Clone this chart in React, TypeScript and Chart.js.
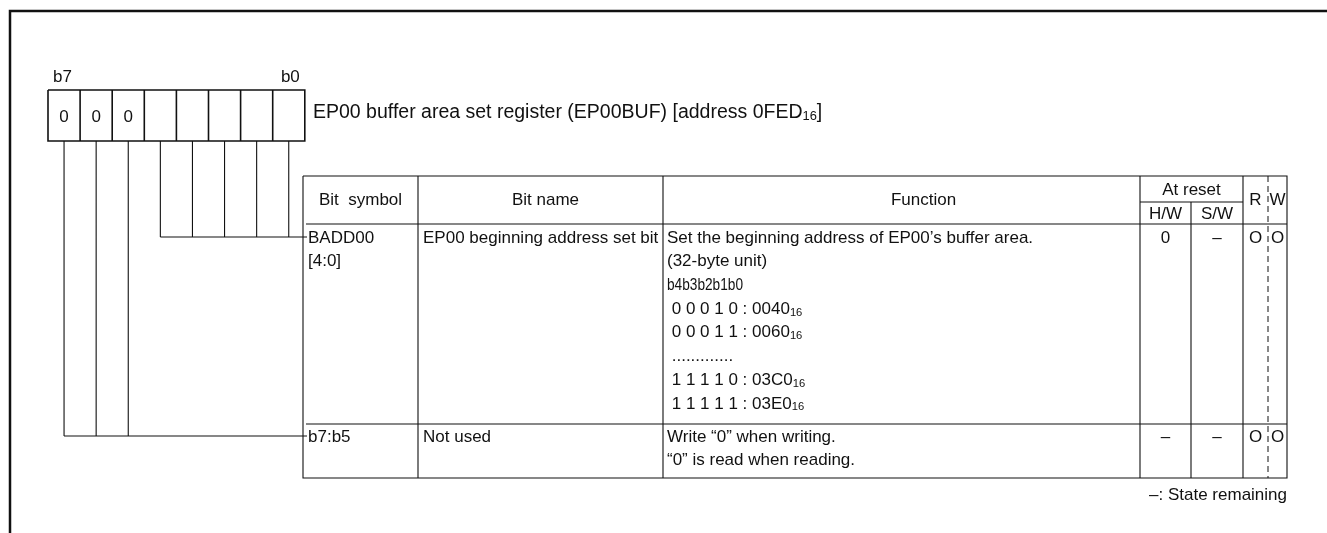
import React, { useEffect, useRef } from "react";
import { Chart, registerables } from "chart.js";

Chart.register(...registerables);

const CANVAS_W = 1327;
const CANVAS_H = 533;
const FONT = '"Liberation Sans", Arial, Helvetica, sans-serif';
const INK = "#111111";

// ---------- content ----------
const bitEndLabels = ["b7", "b0"];
const bitValues = ["0", "0", "0", "", "", "", "", ""];
const titleText = "EP00 buffer area set register (EP00BUF) [address 0FED";
const titleSub = "16";
const titleTail = "]";
const headerLabels = ["Bit  symbol", "Bit name", "Function"];
const resetHeader = "At reset";
const resetSubHeaders = ["H/W", "S/W"];
const rwHeaders = ["R", "W"];
const rowBits = [
  [4, 3, 2, 1, 0],
  [7, 6, 5],
];
const bitSymbols = [["BADD00", "[4:0]"], ["b7:b5"]];
const bitNames = ["EP00 beginning address set bit", "Not used"];
const functionText = [
  [
    "Set the beginning address of EP00\u2019s buffer area.",
    "(32-byte unit)",
    "b4b3b2b1b0",
    " 0 0 0 1 0 : 0040",
    " 0 0 0 1 1 : 0060",
    " .............",
    " 1 1 1 1 0 : 03C0",
    " 1 1 1 1 1 : 03E0",
  ],
  ["Write \u201c0\u201d when writing.", "\u201c0\u201d is read when reading."],
];
const functionSubs = [
  ["", "", "", "16", "16", "", "16", "16"],
  ["", ""],
];
// lines drawn horizontally condensed (max width in px, 0 = natural)
const functionCondense = [
  [0, 0, 76, 0, 0, 0, 0, 0],
  [0, 0],
];
const resetHW = ["0", "\u2013"];
const resetSW = ["\u2013", "\u2013"];
const readFlags = ["O", "O"];
const writeFlags = ["O", "O"];
const footnote = "\u2013: State remaining";

// ---------- layout ----------
const FRAME = { x: 10, y: 11 };
const REG = { x: 48, top: 90, bottom: 141, cell: 32.1, labelY: 77, textY: 117 };
const TITLE = { x: 313, y: 113 };
const COLS = [303, 418, 663, 1140, 1191, 1243, 1268, 1287];
const ROWS = { top: 176, resetMid: 202, header: 224, bottoms: [424, 478] };
const TEXT = { firstLine: [238, 437], step: 23.7, pad: 5 };
const FOOT_Y = 495;
const TABLE_FONT = 17;
const TITLE_FONT = 19.5;

type Pt = { x: number; y: number | null };

function polylines(lines: number[][][]): Pt[] {
  const out: Pt[] = [];
  lines.forEach((pl, i) => {
    if (i > 0) out.push({ x: pl[0][0], y: null });
    pl.forEach(([x, y]) => out.push({ x, y }));
  });
  return out;
}

const bitCenter = (bit: number) => REG.x + REG.cell * (7 - bit + 0.5);

function buildFrame() {
  return polylines([
    [
      [FRAME.x, CANVAS_H],
      [FRAME.x, FRAME.y],
      [CANVAS_W, FRAME.y],
    ],
  ]);
}

function buildRegister() {
  const right = REG.x + REG.cell * 8;
  const lines: number[][][] = [
    [
      [REG.x, REG.top],
      [right, REG.top],
      [right, REG.bottom],
      [REG.x, REG.bottom],
      [REG.x, REG.top],
    ],
  ];
  for (let i = 1; i < 8; i++) {
    const x = REG.x + REG.cell * i;
    lines.push([
      [x, REG.top],
      [x, REG.bottom],
    ]);
  }
  return polylines(lines);
}

function buildThin() {
  const lines: number[][][] = [];
  // leaders from bit cells to table rows
  rowBits.forEach((bits, r) => {
    const ly = TEXT.firstLine[r] - 1;
    bits.forEach((b) => {
      lines.push([
        [bitCenter(b), REG.bottom],
        [bitCenter(b), ly],
      ]);
    });
    const minX = Math.min(...bits.map(bitCenter));
    lines.push([
      [minX, ly],
      [COLS[0] + 4, ly],
    ]);
  });
  const L = COLS[0];
  const R = COLS[COLS.length - 1];
  const B = ROWS.bottoms[ROWS.bottoms.length - 1];
  // outer table
  lines.push([
    [L, ROWS.top],
    [R, ROWS.top],
    [R, B],
    [L, B],
    [L, ROWS.top],
  ]);
  // row separators
  [ROWS.header, ...ROWS.bottoms.slice(0, -1)].forEach((y) => {
    lines.push([
      [L + 3, y],
      [R, y],
    ]);
  });
  // column lines
  [COLS[1], COLS[2], COLS[3], COLS[5]].forEach((x) => {
    lines.push([
      [x, ROWS.top],
      [x, B],
    ]);
  });
  lines.push([
    [COLS[4], ROWS.resetMid],
    [COLS[4], B],
  ]);
  lines.push([
    [COLS[3], ROWS.resetMid],
    [COLS[5], ROWS.resetMid],
  ]);
  return polylines(lines);
}

function buildDashed() {
  const B = ROWS.bottoms[ROWS.bottoms.length - 1];
  return polylines([
    [
      [COLS[6], ROWS.top],
      [COLS[6], B],
    ],
  ]);
}

const textPlugin = {
  id: "registerText",
  afterDatasetsDraw(chart: any) {
    const ctx: CanvasRenderingContext2D = chart.ctx;
    const xs = chart.scales.x;
    const ys = chart.scales.y;
    const X = (v: number) => xs.getPixelForValue(v);
    const Y = (v: number) => ys.getPixelForValue(v);
    const put = (
      s: string,
      x: number,
      y: number,
      align: CanvasTextAlign = "left",
      size: number = TABLE_FONT,
      sub = "",
      tail = "",
      maxW = 0
    ) => {
      ctx.save();
      ctx.fillStyle = INK;
      ctx.textBaseline = "middle";
      ctx.font = `${size}px ${FONT}`;
      ctx.textAlign = align;
      if (maxW > 0) ctx.fillText(s, X(x), Y(y), maxW);
      else ctx.fillText(s, X(x), Y(y));
      if (sub && align === "left") {
        const w = ctx.measureText(s).width;
        ctx.font = `${size * 0.66}px ${FONT}`;
        ctx.fillText(sub, X(x) + w, Y(y) + size * 0.2);
        const w2 = ctx.measureText(sub).width;
        if (tail) {
          ctx.font = `${size}px ${FONT}`;
          ctx.fillText(tail, X(x) + w + w2, Y(y));
        }
      }
      ctx.restore();
    };

    // bit end labels
    put(bitEndLabels[0], REG.x + 5, REG.labelY, "left", TABLE_FONT);
    put(bitEndLabels[1], REG.x + REG.cell * 8 - 5, REG.labelY, "right", TABLE_FONT);
    // register cells
    bitValues.forEach((v, i) => {
      if (v) put(v, REG.x + REG.cell * (i + 0.5), REG.textY, "center", TABLE_FONT);
    });
    // title
    put(titleText, TITLE.x, TITLE.y, "left", TITLE_FONT, titleSub, titleTail);

    // headers
    const hy = (ROWS.top + ROWS.header) / 2;
    put(headerLabels[0], (COLS[0] + COLS[1]) / 2, hy, "center");
    put(headerLabels[1], (COLS[1] + COLS[2]) / 2 + 5, hy, "center");
    put(headerLabels[2], (COLS[2] + COLS[3]) / 2 + 22, hy, "center");
    put(resetHeader, (COLS[3] + COLS[5]) / 2, (ROWS.top + ROWS.resetMid) / 2 + 1, "center");
    put(resetSubHeaders[0], (COLS[3] + COLS[4]) / 2, (ROWS.resetMid + ROWS.header) / 2 + 1, "center");
    put(resetSubHeaders[1], (COLS[4] + COLS[5]) / 2, (ROWS.resetMid + ROWS.header) / 2 + 1, "center");
    put(rwHeaders[0], (COLS[5] + COLS[6]) / 2, hy, "center");
    put(rwHeaders[1], (COLS[6] + COLS[7]) / 2, hy, "center");

    // rows
    bitSymbols.forEach((_, r) => {
      const y0 = TEXT.firstLine[r];
      bitSymbols[r].forEach((s, i) => put(s, COLS[0] + TEXT.pad, y0 + i * TEXT.step));
      put(bitNames[r], COLS[1] + TEXT.pad, y0);
      functionText[r].forEach((s, i) =>
        put(
          s,
          COLS[2] + TEXT.pad - 1,
          y0 + i * TEXT.step,
          "left",
          TABLE_FONT,
          functionSubs[r][i],
          "",
          functionCondense[r][i]
        )
      );
      put(resetHW[r], (COLS[3] + COLS[4]) / 2, y0, "center");
      put(resetSW[r], (COLS[4] + COLS[5]) / 2, y0, "center");
      put(readFlags[r], (COLS[5] + COLS[6]) / 2, y0, "center");
      put(writeFlags[r], (COLS[6] + COLS[7]) / 2, y0, "center");
    });

    // footnote
    put(footnote, COLS[7], FOOT_Y, "right");
  },
};

export default function App() {
  const ref = useRef<HTMLCanvasElement | null>(null);

  useEffect(() => {
    if (!ref.current) return;
    const common = {
      borderColor: INK,
      pointRadius: 0,
      pointHoverRadius: 0,
      spanGaps: false,
      fill: false,
      tension: 0,
      borderCapStyle: "butt" as const,
      borderJoinStyle: "miter" as const,
    };
    const chart = new Chart(ref.current, {
      type: "line",
      data: {
        datasets: [
          { ...common, label: "frame", data: buildFrame() as any, borderWidth: 2.5 },
          { ...common, label: "register", data: buildRegister() as any, borderWidth: 1.6 },
          { ...common, label: "table", data: buildThin() as any, borderWidth: 1.1 },
          { ...common, label: "rw", data: buildDashed() as any, borderWidth: 1, borderDash: [6, 4] },
        ],
      },
      options: {
        responsive: false,
        maintainAspectRatio: false,
        animation: false,
        events: [],
        layout: { padding: 0 },
        plugins: { legend: { display: false }, tooltip: { enabled: false } },
        scales: {
          x: { type: "linear", min: 0, max: CANVAS_W, display: false },
          y: { type: "linear", min: 0, max: CANVAS_H, reverse: true, display: false },
        },
      },
      plugins: [textPlugin],
    });
    return () => chart.destroy();
  }, []);

  return (
    <div style={{ position: "fixed", left: 0, top: 0, width: CANVAS_W, height: CANVAS_H, background: "#fff" }}>
      <canvas ref={ref} width={CANVAS_W} height={CANVAS_H} style={{ display: "block" }} />
    </div>
  );
}
